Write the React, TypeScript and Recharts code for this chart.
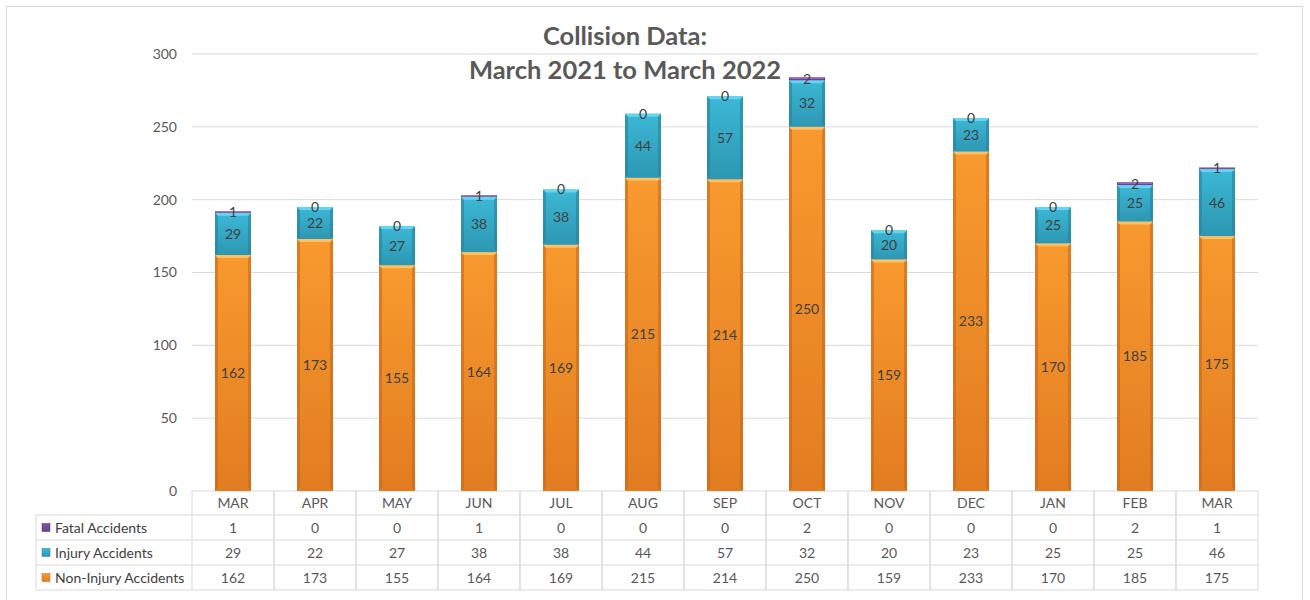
import { BarChart, Bar, XAxis, YAxis, CartesianGrid, LabelList } from 'recharts'

// values
const months = ['MAR', 'APR', 'MAY', 'JUN', 'JUL', 'AUG', 'SEP', 'OCT', 'NOV', 'DEC', 'JAN', 'FEB', 'MAR']
const fatal = [1, 0, 0, 1, 0, 0, 0, 2, 0, 0, 0, 2, 1]
const injury = [29, 22, 27, 38, 38, 44, 57, 32, 20, 23, 25, 25, 46]
const nonInjury = [162, 173, 155, 164, 169, 215, 214, 250, 159, 233, 170, 185, 175]
const yTicks = [0, 50, 100, 150, 200, 250, 300]

const data = months.map((m, i) => ({
  month: m,
  fatal: fatal[i],
  injury: injury[i],
  nonInjury: nonInjury[i],
}))

const W = 1310
const H = 600
const M_LEFT = 192
const M_RIGHT = 52
const M_TOP = 54
const X_AXIS_H = 109
const BAND = (W - M_LEFT - M_RIGHT) / months.length
const ROW_H = 25
const HEAD_H = 24
const TABLE_LEFT = 36
const FONT = 'Lato, "Open Sans", sans-serif'
const TEXT = '#595959'
const LINE = '#D9D9D9'

const palette = {
  fatal: { top: '#9B72C0', body1: '#7E53A3', body2: '#66408A', side: '#553574' },
  injury: { top: '#66D4EE', body1: '#3CB8D6', body2: '#2D97B2', side: '#2682A0' },
  nonInjury: { top: '#FDC063', body1: '#F89A2F', body2: '#E27C21', side: '#C9681A' },
}

type Key = keyof typeof palette

const rows: { key: Key; label: string; values: number[] }[] = [
  { key: 'fatal', label: 'Fatal Accidents', values: fatal },
  { key: 'injury', label: 'Injury Accidents', values: injury },
  { key: 'nonInjury', label: 'Non-Injury Accidents', values: nonInjury },
]

function bevelShape(key: Key) {
  return (props: any) => {
    const { x, y, width, height } = props
    if (!height || height <= 0) return <g />
    const c = palette[key]
    const b = Math.min(3, height / 2)
    return (
      <g>
        <rect x={x} y={y} width={width} height={height} fill={`url(#grad-${key})`} />
        <polygon
          points={`${x},${y + height} ${x + b},${y + height - b} ${x + b},${y + b} ${x},${y}`}
          fill={c.side}
          opacity={0.6}
        />
        <polygon
          points={`${x + width},${y + height} ${x + width - b},${y + height - b} ${x + width - b},${y + b} ${x + width},${y}`}
          fill={c.side}
          opacity={0.6}
        />
        <polygon
          points={`${x},${y} ${x + width},${y} ${x + width - b},${y + b} ${x + b},${y + b}`}
          fill={c.top}
        />
      </g>
    )
  }
}

function TableTick(props: any) {
  const { x, y, payload } = props
  const i = payload.index
  const left = x - BAND / 2
  const right = x + BAND / 2
  const bottom = y + HEAD_H + ROW_H * rows.length
  return (
    <g fontFamily={FONT} fontSize={14} fill={TEXT}>
      <line x1={left} y1={y} x2={left} y2={bottom} stroke={LINE} />
      <line x1={right} y1={y} x2={right} y2={bottom} stroke={LINE} />
      <line x1={left} y1={y + HEAD_H} x2={right} y2={y + HEAD_H} stroke={LINE} />
      <text x={x} y={y + HEAD_H / 2 + 5} textAnchor="middle">{payload.value}</text>
      {rows.map((r, k) => (
        <g key={r.key}>
          <line
            x1={left}
            y1={y + HEAD_H + ROW_H * (k + 1)}
            x2={right}
            y2={y + HEAD_H + ROW_H * (k + 1)}
            stroke={LINE}
          />
          <text x={x} y={y + HEAD_H + ROW_H * k + ROW_H / 2 + 5} textAnchor="middle">
            {r.values[i]}
          </text>
        </g>
      ))}
      {i === 0 && (
        <g>
          <line x1={TABLE_LEFT} y1={y + HEAD_H} x2={left} y2={y + HEAD_H} stroke={LINE} />
          <line x1={TABLE_LEFT} y1={y + HEAD_H} x2={TABLE_LEFT} y2={bottom} stroke={LINE} />
          {rows.map((r, k) => {
            const cy = y + HEAD_H + ROW_H * k + ROW_H / 2
            return (
              <g key={r.key}>
                <line
                  x1={TABLE_LEFT}
                  y1={y + HEAD_H + ROW_H * (k + 1)}
                  x2={left}
                  y2={y + HEAD_H + ROW_H * (k + 1)}
                  stroke={LINE}
                />
                <rect x={42} y={cy - 4} width={8} height={8} fill={`url(#grad-${r.key})`} stroke={palette[r.key].side} strokeWidth={0.5} />
                <text x={55} y={cy + 5} textAnchor="start" fill="#404040">{r.label}</text>
              </g>
            )
          })}
        </g>
      )}
    </g>
  )
}

export default function App() {
  return (
    <div style={{ position: 'absolute', left: 0, top: 0, width: W, height: H, background: '#fff', overflow: 'hidden' }}>
      <div
        style={{
          position: 'absolute', left: 6, top: 6, width: W - 13, height: H,
          border: `1px solid ${LINE}`, boxSizing: 'border-box',
        }}
      />
      <BarChart
        width={W}
        height={H}
        data={data}
        margin={{ top: M_TOP, right: M_RIGHT, left: 0, bottom: 0 }}
        barSize={36}
      >
        <defs>
          {(Object.keys(palette) as Key[]).map(k => (
            <linearGradient key={k} id={`grad-${k}`} x1="0" y1="0" x2="0" y2="1">
              <stop offset="0%" stopColor={palette[k].body1} />
              <stop offset="100%" stopColor={palette[k].body2} />
            </linearGradient>
          ))}
        </defs>
        <CartesianGrid vertical={false} stroke={LINE} />
        <XAxis
          dataKey="month"
          height={X_AXIS_H}
          axisLine={false}
          tickLine={false}
          tickSize={0}
          tickMargin={0}
          interval={0}
          tick={<TableTick />}
        />
        <YAxis
          width={M_LEFT}
          domain={[0, 300]}
          ticks={yTicks}
          axisLine={false}
          tickLine={false}
          tickMargin={9}
          tick={{ fill: TEXT, fontSize: 14, fontFamily: FONT }}
        />
        <Bar dataKey="nonInjury" stackId="a" isAnimationActive={false} shape={bevelShape('nonInjury')}>
          <LabelList dataKey="nonInjury" position="center" fill="#404040" fontSize={14} fontFamily={FONT} />
        </Bar>
        <Bar dataKey="injury" stackId="a" isAnimationActive={false} shape={bevelShape('injury')}>
          <LabelList dataKey="injury" position="center" fill="#404040" fontSize={14} fontFamily={FONT} />
        </Bar>
        <Bar dataKey="fatal" stackId="a" isAnimationActive={false} shape={bevelShape('fatal')}>
          <LabelList dataKey="fatal" position="center" fill="#404040" fontSize={14} fontFamily={FONT} />
        </Bar>
      </BarChart>
      <div
        style={{
          position: 'absolute', left: 425, width: 400, top: 18, textAlign: 'center',
          fontFamily: FONT, fontWeight: 700, fontSize: 25.5, lineHeight: '34px', color: TEXT,
        }}
      >
        Collision Data:
        <br />
        March 2021 to March 2022
      </div>
    </div>
  )
}
